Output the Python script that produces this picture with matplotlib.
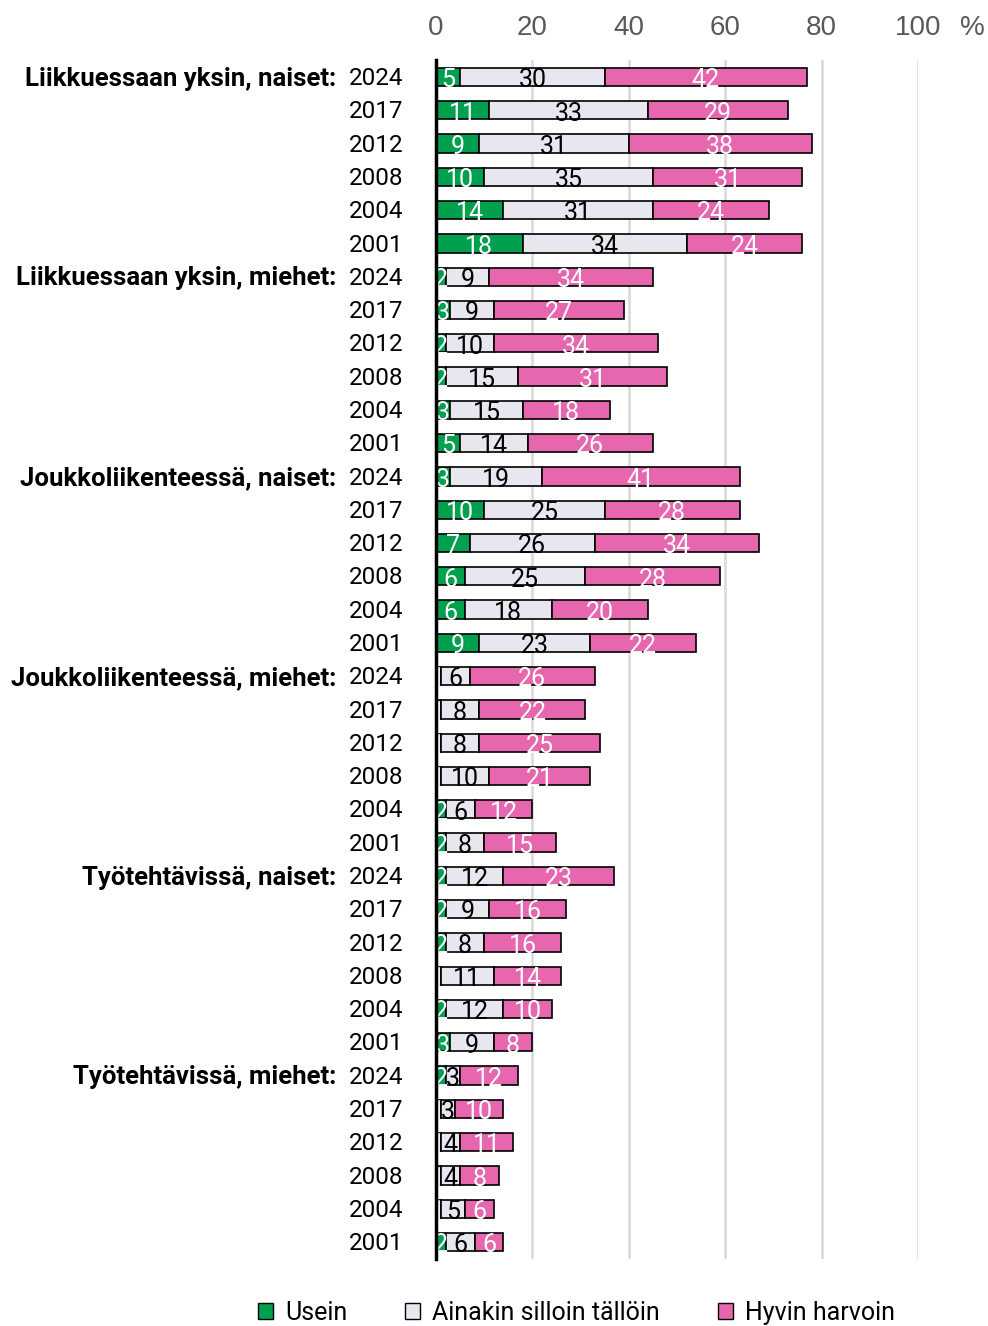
import matplotlib
matplotlib.use("Agg")
import matplotlib.pyplot as plt
from matplotlib.patches import Patch

# data: six groups, six survey years each (top to bottom)
#
groups = [
  "Liikkuessaan yksin, naiset:",
  "Liikkuessaan yksin, miehet:",
  "Joukkoliikenteessä, naiset:",
  "Joukkoliikenteessä, miehet:",
  "Työtehtävissä, naiset:",
  "Työtehtävissä, miehet:",
]
years = ["2024", "2017", "2012", "2008", "2004", "2001"]

usein = [
  5, 11, 9, 10, 14, 18,
  2, 3, 2, 2, 3, 5,
  3, 10, 7, 6, 6, 9,
  1, 1, 1, 1, 2, 2,
  2, 2, 2, 1, 2, 3,
  2, 1, 1, 1, 1, 2,
]
ainakin = [
  30, 33, 31, 35, 31, 34,
  9, 9, 10, 15, 15, 14,
  19, 25, 26, 25, 18, 23,
  6, 8, 8, 10, 6, 8,
  12, 9, 8, 11, 12, 9,
  3, 3, 4, 4, 5, 6,
]
harvoin = [
  42, 29, 38, 31, 24, 24,
  34, 27, 34, 31, 18, 26,
  41, 28, 34, 28, 20, 22,
  26, 22, 25, 21, 12, 15,
  23, 16, 16, 14, 10, 8,
  12, 10, 11, 8, 6, 6,
]
series_names = ["Usein", "Ainakin silloin tällöin", "Hyvin harvoin"]
colors = ["#00A04F", "#E8E6EE", "#E667AE"]
text_colors = ["white", "black", "white"]

plt.rcParams["font.family"] = ["Roboto", "DejaVu Sans"]
tick_font = ["Liberation Sans", "DejaVu Sans"]

fig = plt.figure(figsize = (9.88, 13.26), dpi = 100)
ax = fig.add_axes([0.4413, 0.0508, 0.4878, 0.9037])

n = len(usein)
rows = list(range(n))

# stacked bars
#
left = [0] * n
for name, vals, col, tcol in zip(series_names, [usein, ainakin, harvoin], colors, text_colors):
  ax.barh(rows, vals, left = left, height = 0.55, color = col,
    edgecolor = "black", linewidth = 1.2, zorder = 2)
  for i, v in enumerate(vals):
    ax.text(left[i] + v / 2, i + 0.1, f"{v}", ha = "center", va = "center",
      fontsize = 18, color = tcol, zorder = 3)
  left = [a + b for a, b in zip(left, vals)]

ax.set_xlim(0, 100)
ax.set_ylim(n - 0.5, -0.5)

# axes styling
#
ax.xaxis.tick_top()
ax.set_xticks([0, 20, 40, 60, 80, 100])
ax.tick_params(axis = "x", length = 0, pad = 14, labelsize = 20, labelcolor = "#595959")
for lab in ax.get_xticklabels():
  lab.set_family(tick_font)
ax.set_yticks([])
for s in ["top", "right", "bottom"]:
  ax.spines[s].set_visible(False)
ax.spines["left"].set_linewidth(2.5)
ax.spines["left"].set_zorder(4)
for gx in [20, 40, 60, 80, 100]:
  ax.axvline(gx, color = "#D9D9D9", linewidth = 1.8, zorder = 1)

ax.text(111.2, -1.48, "%", ha = "center", va = "center",
  fontsize = 20, color = "#595959", family = tick_font)

# row labels
#
for i, y in enumerate(years * len(groups)):
  ax.text(-6.8, i + 0.05, y, ha = "right", va = "center", fontsize = 17.5, color = "black")
for g, name in enumerate(groups):
  ax.text(-20.7, g * len(years) + 0.05, name, ha = "right", va = "center",
    fontsize = 18.5, fontweight = "bold", color = "black")

# legend
#
handles = [Patch(facecolor = c, edgecolor = "black", label = s) for s, c in zip(series_names, colors)]
fig.legend(handles = handles, loc = "center", bbox_to_anchor = (0.5835, 0.0098), ncol = 3,
  frameon = False, fontsize = 18, handlelength = 0.6, handleheight = 0.6,
  handletextpad = 0.5, columnspacing = 2.3, borderpad = 0)

fig.savefig("out.png", dpi = 100)
